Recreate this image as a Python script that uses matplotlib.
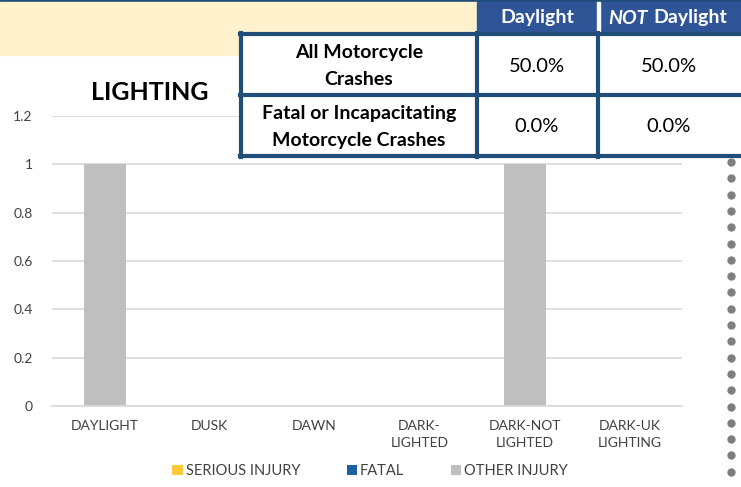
import matplotlib.pyplot as plt
from matplotlib.patches import Rectangle
import numpy as np

plt.rcParams['font.family'] = ['Lato', 'DejaVu Sans']

# data
categories = ['DAYLIGHT', 'DUSK', 'DAWN', 'DARK-\nLIGHTED', 'DARK-NOT\nLIGHTED', 'DARK-UK\nLIGHTING']
serious_injury = [0, 0, 0, 0, 0, 0]
fatal = [0, 0, 0, 0, 0, 0]
other_injury = [1, 0, 0, 0, 1, 0]

col_labels = ['Daylight', 'NOT Daylight']
row_labels = ['All Motorcycle\nCrashes', 'Fatal or Incapacitating\nMotorcycle Crashes']
table_vals = [['50.0%', '50.0%'], ['0.0%', '0.0%']]

W, H = 741, 487
fig = plt.figure(figsize=(W / 100, H / 100), dpi=100)

def fx(px):
    return px / W

def fy(py):
    return 1 - py / H

# chart
ax = fig.add_axes([fx(52), fy(406), fx(682) - fx(52), fy(116) - fy(406)])
x = np.arange(len(categories))
ax.bar(x, serious_injury, 0.4, color='#FFC93C', label='SERIOUS INJURY')
ax.bar(x, fatal, 0.4, bottom=serious_injury, color='#1F5FA6', label='FATAL')
bottom2 = np.array(serious_injury) + np.array(fatal)
ax.bar(x, other_injury, 0.4, bottom=bottom2, color='#BFBFBF', label='OTHER INJURY')

ax.set_xlim(-0.5, len(categories) - 0.5)
ax.set_ylim(0, 1.2)
ax.set_yticks([0, 0.2, 0.4, 0.6, 0.8, 1, 1.2])
ax.set_yticklabels(['0', '0.2', '0.4', '0.6', '0.8', '1', '1.2'])
ax.set_xticks(x)
ax.set_xticklabels(categories, fontsize=9.5, color='#404040', linespacing=1.5)
ax.tick_params(axis='both', length=0, labelsize=10, colors='#404040')
ax.tick_params(axis='y', pad=14)
ax.tick_params(axis='x', pad=10)
ax.yaxis.grid(True, color='#D9D9D9', linewidth=1.2)
ax.set_axisbelow(True)
for s in ['top', 'right', 'left']:
    ax.spines[s].set_visible(False)
ax.spines['bottom'].set_color('#D9D9D9')
ax.spines['bottom'].set_linewidth(1.2)

fig.text(fx(150), fy(92), 'LIGHTING', fontsize=18, fontweight='bold', ha='center', va='center')

leg = fig.legend(loc='center', bbox_to_anchor=(fx(370), fy(471)), ncol=3, frameon=False,
                 fontsize=10.5, handlelength=0.7, handleheight=0.7, handletextpad=0.2,
                 columnspacing=3.2)
for t in leg.get_texts():
    t.set_color('#404040')

# header band and table
navy = '#1F4E79'
head = '#2F5597'
fig.patches.append(Rectangle((0, fy(2)), 1, fy(0) - fy(2) + 0.001, transform=fig.transFigure, color=navy))
fig.patches.append(Rectangle((0, fy(55)), fx(477), fy(2) - fy(55), transform=fig.transFigure, color='#FFF2CC'))
fig.patches.append(Rectangle((fx(477), fy(33)), fx(741) - fx(477), fy(2) - fy(33), transform=fig.transFigure, color=head))
fig.patches.append(Rectangle((fx(597), fy(33)), fx(3), fy(2) - fy(33), transform=fig.transFigure, color='white'))
fig.patches.append(Rectangle((fx(240), fy(157)), fx(741) - fx(240), fy(33) - fy(157), transform=fig.transFigure,
                             facecolor='white', edgecolor='none'))
for px in [241, 477, 598]:
    fig.add_artist(plt.Line2D([fx(px), fx(px)], [fy(157), fy(33)], color=navy, linewidth=3))
for py in [34, 95, 156]:
    fig.add_artist(plt.Line2D([fx(240), 1], [fy(py), fy(py)], color=navy, linewidth=3))

fig.text(fx(537), fy(18), col_labels[0], fontsize=14, fontweight='bold', color='white', ha='center', va='center')
fig.text(fx(648), fy(18), 'NOT', fontsize=14, fontweight='bold', style='italic', color='white', ha='right', va='center')
fig.text(fx(653), fy(18), 'Daylight', fontsize=14, fontweight='bold', color='white', ha='left', va='center')

row_y = [66, 127]
for i, lab in enumerate(row_labels):
    fig.text(fx(359), fy(row_y[i]), lab, fontsize=14, fontweight='bold', ha='center', va='center', linespacing=1.75)
    fig.text(fx(537), fy(row_y[i]), table_vals[i][0], fontsize=14.5, ha='center', va='center')
    fig.text(fx(669), fy(row_y[i]), table_vals[i][1], fontsize=14.5, ha='center', va='center')

# dotted border on the right
dots_y = np.arange(162, 487, 16.3)
fig.add_artist(plt.Line2D([fx(731)] * len(dots_y), fy(dots_y), linestyle='none', marker='o',
                          markersize=5, color='#7F7F7F'))

fig.savefig('out.png', dpi=100)
